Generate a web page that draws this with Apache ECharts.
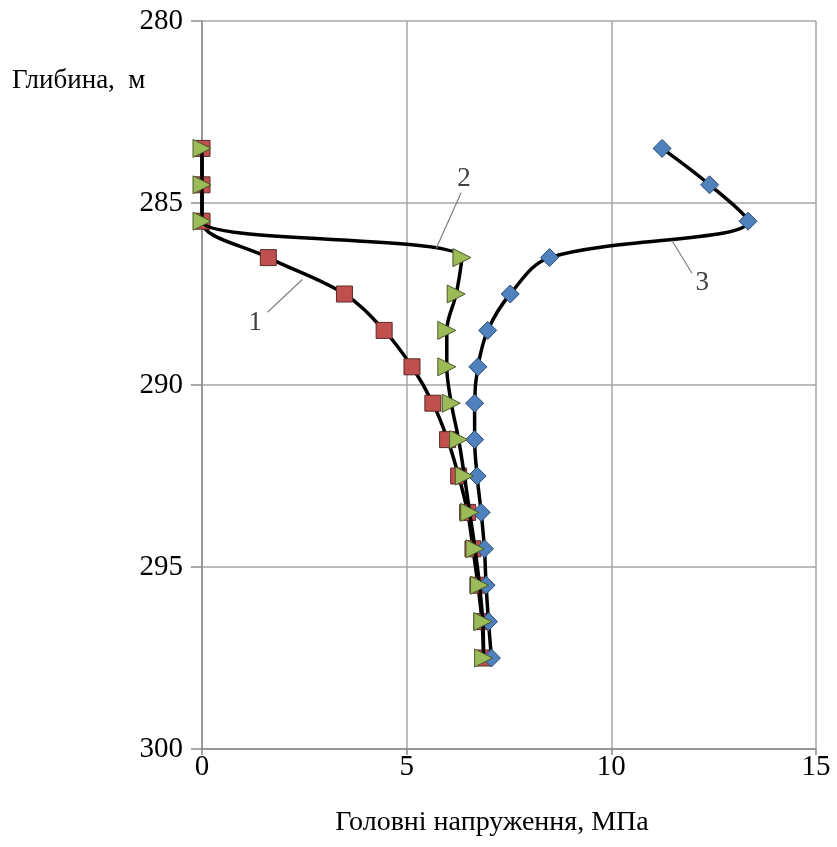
<!DOCTYPE html>
<html>
<head>
<meta charset="utf-8">
<script src="https://cdn.jsdelivr.net/npm/echarts@6/dist/echarts.min.js"></script>
<style>
  html, body { margin: 0; padding: 0; background: #fff; }
  #chart { width: 837px; height: 847px; }
</style>
</head>
<body>
<div id="chart"></div>
<script>
// Depth levels, m
const depths = [283.5, 284.5, 285.5, 286.5, 287.5, 288.5, 289.5, 290.5, 291.5, 292.5, 293.5, 294.5, 295.5, 296.5, 297.5];

// Principal stresses, MPa
const stress1 = [0, 0, 0, 1.62, 3.48, 4.45, 5.13, 5.64, 6.0, 6.27, 6.49, 6.62, 6.74, 6.84, 6.88];
const stress2 = [0, 0, 0, 6.35, 6.21, 5.98, 5.98, 6.09, 6.27, 6.41, 6.54, 6.67, 6.78, 6.86, 6.88];
const stress3 = [11.24, 12.4, 13.34, 8.49, 7.53, 6.98, 6.74, 6.66, 6.66, 6.72, 6.82, 6.9, 6.94, 7.0, 7.07];

// Axis ticks
const xTicks = [0, 5, 10, 15];
const yTicks = [280, 285, 290, 295, 300];

// Curve numbers with leader lines, in data units
const curveLabels = [
  { text: '1', at: [1.3, 288.3], from: [1.6, 288.0], to: [2.45, 287.1] },
  { text: '2', at: [6.4, 284.35], from: [6.33, 284.72], to: [5.72, 286.25] },
  { text: '3', at: [12.22, 287.2], from: [11.97, 286.93], to: [11.48, 286.03] }
];

const pairs = (xs) => xs.map((v, i) => [v, depths[i]]);

const font = '"Liberation Serif", "DejaVu Serif", serif';
const chart = echarts.init(document.getElementById('chart'));

const lineStyle = { color: '#000', width: 3.5 };
const axisGrey = '#8c8c8c';

chart.setOption({
  animation: false,
  backgroundColor: '#fff',
  grid: { left: 202, top: 21, right: 21, bottom: 98 },
  xAxis: {
    type: 'value',
    min: xTicks[0],
    max: xTicks[xTicks.length - 1],
    interval: 5,
    axisLine: { show: true, lineStyle: { color: axisGrey, width: 1.5 } },
    axisTick: { show: true, length: 6, lineStyle: { color: axisGrey, width: 1.5 } },
    splitLine: { show: true, lineStyle: { color: '#a6a6a6', width: 1.5 } },
    axisLabel: { color: '#000', fontFamily: font, fontSize: 29, margin: 4 }
  },
  yAxis: {
    type: 'value',
    inverse: true,
    min: yTicks[0],
    max: yTicks[yTicks.length - 1],
    interval: 5,
    axisLine: { show: true, lineStyle: { color: axisGrey, width: 1.5 } },
    axisTick: { show: true, length: 11, lineStyle: { color: axisGrey, width: 1.5 } },
    splitLine: { show: true, lineStyle: { color: '#a6a6a6', width: 1.5 } },
    axisLabel: { color: '#000', fontFamily: font, fontSize: 29, margin: 19 }
  },
  series: [
    {
      name: '1', type: 'line', data: pairs(stress1), smooth: 0.35, z: 2,
      lineStyle, symbol: 'rect', symbolSize: 16,
      itemStyle: { color: '#c0504d', borderColor: '#5a2a28', borderWidth: 1 }
    },
    {
      name: '3', type: 'line', data: pairs(stress3), smooth: 0.35, z: 3,
      lineStyle, symbol: 'diamond', symbolSize: 18,
      itemStyle: { color: '#4f81bd', borderColor: '#2c4a70', borderWidth: 1 }
    },
    {
      name: '2', type: 'line', data: pairs(stress2), smooth: 0.35, z: 4,
      lineStyle, symbol: 'triangle', symbolSize: 18, symbolRotate: -90,
      itemStyle: { color: '#9bbb59', borderColor: '#4a5a2a', borderWidth: 1 }
    }
  ]
});

// Axis titles and curve numbers placed from data coordinates
const px = (p) => chart.convertToPixel({ gridIndex: 0 }, p);
const graphics = [
  {
    type: 'text', x: 12, y: 81,
    style: { text: 'Глибина,  м', font: '27px ' + font, fill: '#000', verticalAlign: 'middle' }
  },
  {
    type: 'text', x: 492, y: 823,
    style: { text: 'Головні напруження, МПа', font: '28px ' + font, fill: '#000', align: 'center', verticalAlign: 'middle' }
  }
];
curveLabels.forEach((c) => {
  const a = px(c.from), b = px(c.to), t = px(c.at);
  graphics.push({
    type: 'line', z: 10,
    shape: { x1: a[0], y1: a[1], x2: b[0], y2: b[1] },
    style: { stroke: '#7f7f7f', lineWidth: 1.2 }
  });
  graphics.push({
    type: 'text', z: 10, x: t[0], y: t[1],
    style: { text: c.text, font: '27px ' + font, fill: '#404040', align: 'center', verticalAlign: 'middle' }
  });
});
chart.setOption({ graphic: graphics });
</script>
</body>
</html>
